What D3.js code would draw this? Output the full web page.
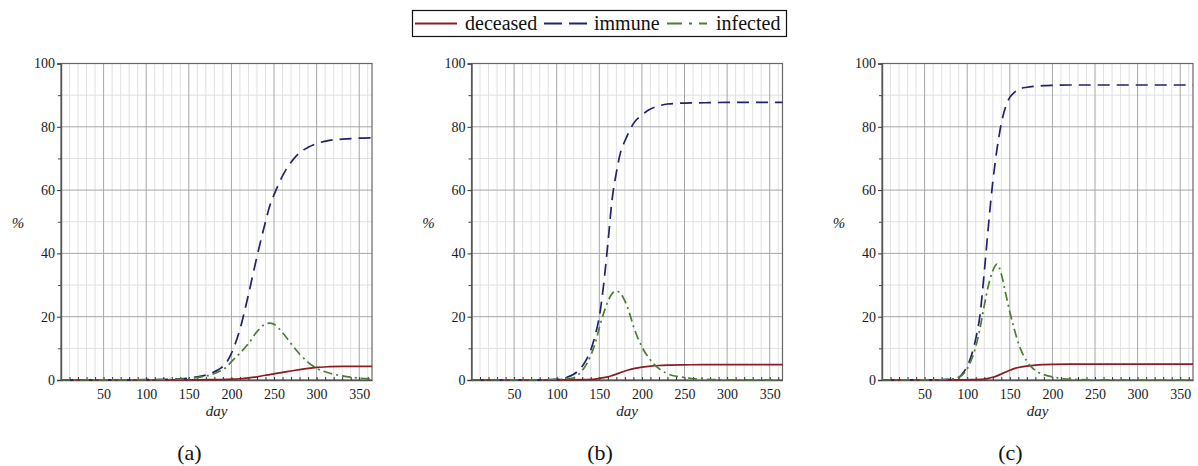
<!DOCTYPE html>
<html>
<head>
<meta charset="utf-8">
<script src="https://cdn.jsdelivr.net/npm/d3@7"></script>
<style>
  html, body { margin: 0; padding: 0; background: #fff; }
  svg { display: block; }
  svg text { font-family: "Liberation Serif", "Times New Roman", serif; }
</style>
</head>
<body>
<svg id="chart" width="1198" height="466"></svg>
<script>
// Epidemic model runs: share of population (%) per day, three scenarios.
const seriesNames = ["deceased", "immune", "infected"];
const panelLabels = ["(a)", "(b)", "(c)"];
const xTickLabels = [50, 100, 150, 200, 250, 300, 350];
const yTickLabels = [0, 20, 40, 60, 80, 100];

// Scenario (a)
const daysA     = [0, 100, 140, 160, 175, 185, 195, 200, 210, 220, 230, 240, 245, 250, 260, 270, 280, 290, 300, 315, 330, 350, 365];
const deceasedA = [0, 0, 0.02, 0.05, 0.1, 0.15, 0.2, 0.25, 0.4, 0.65, 1.0, 1.5, 1.7, 1.95, 2.4, 2.85, 3.3, 3.7, 4.0, 4.2, 4.28, 4.3, 4.3];
const immuneA   = [0, 0.1, 0.4, 1.0, 2.0, 3.3, 5.8, 8.4, 16, 27, 39, 50, 55, 58.5, 64.5, 68.8, 71.8, 73.5, 74.7, 75.7, 76.1, 76.4, 76.5];
const infectedA = [0, 0.05, 0.3, 0.8, 1.6, 2.6, 4.3, 5.8, 8.5, 11.5, 15.3, 17.7, 18, 17.6, 15, 11.5, 8.2, 5.6, 3.7, 2.2, 1.3, 0.6, 0.3];

// Scenario (b)
const daysB     = [0, 80, 100, 110, 120, 128, 135, 140, 145, 150, 155, 160, 165, 170, 175, 180, 185, 190, 200, 210, 220, 230, 250, 275, 300, 365];
const deceasedB = [0, 0, 0.02, 0.04, 0.07, 0.1, 0.15, 0.2, 0.3, 0.5, 0.75, 1.0, 1.4, 1.85, 2.35, 2.85, 3.25, 3.6, 4.05, 4.38, 4.58, 4.7, 4.8, 4.85, 4.85, 4.85];
const immuneB   = [0, 0.05, 0.2, 0.7, 1.8, 3.7, 6.5, 9.5, 14, 20, 30, 43, 57, 65.5, 72, 75.5, 78.5, 81, 83.7, 85.6, 86.6, 87.2, 87.5, 87.6, 87.7, 87.7];
const infectedB = [0, 0.05, 0.2, 0.3, 0.7, 2.4, 5, 7.8, 11.5, 16.5, 21, 24.8, 27.3, 28.1, 27.3, 25, 21.5, 17, 10.5, 6.3, 3.6, 2.0, 0.8, 0.2, 0.05, 0];

// Scenario (c)
const daysC     = [0, 60, 80, 90, 95, 100, 105, 110, 115, 120, 125, 130, 135, 140, 145, 150, 155, 160, 170, 180, 190, 200, 220, 250, 300, 365];
const deceasedC = [0, 0, 0.02, 0.03, 0.05, 0.08, 0.1, 0.12, 0.17, 0.25, 0.5, 0.85, 1.3, 1.9, 2.5, 3.1, 3.6, 3.95, 4.4, 4.7, 4.85, 4.95, 5.0, 5.0, 5.0, 5.0];
const immuneC   = [0, 0.05, 0.2, 0.8, 2.2, 4.3, 7.8, 13, 20.5, 34, 49, 62.5, 73, 81, 86.3, 89.3, 90.8, 91.8, 92.5, 92.8, 93, 93.1, 93.2, 93.2, 93.2, 93.2];
const infectedC = [0, 0.05, 0.3, 0.9, 1.8, 3.5, 6.5, 10.5, 16.3, 23.5, 30, 34.5, 36.6, 33.5, 27.5, 21.5, 16.3, 11.7, 5.9, 3.0, 1.7, 1.0, 0.25, 0.05, 0, 0];

const panels = [
  { label: panelLabels[0], days: daysA, values: [deceasedA, immuneA, infectedA] },
  { label: panelLabels[1], days: daysB, values: [deceasedB, immuneB, infectedB] },
  { label: panelLabels[2], days: daysC, values: [deceasedC, immuneC, infectedC] }
];

const styles = {
  deceased: { color: "#8a1c22", dash: null },
  immune:   { color: "#22226e", dash: "12,7" },
  infected: { color: "#4d7d30", dash: "9,4,2,4" }
};

const svg = d3.select("#chart");
const serif = "'Liberation Serif', 'Times New Roman', serif";

const plotW = 311, plotTop = 63.5, plotBottom = 380;
const panelLeft = [61, 471.5, 882];

panels.forEach((p, i) => {
  const left = panelLeft[i];
  const x = d3.scaleLinear().domain([0, 365]).range([left, left + plotW]);
  const y = d3.scaleLinear().domain([0, 100]).range([plotBottom, plotTop]);
  const g = svg.append("g");

  // minor grid
  const minorX = d3.range(10, 365, 10).filter(d => d % 50 !== 0);
  const minorY = [10, 30, 50, 70, 90];
  g.selectAll(".mgx").data(minorX).join("line")
    .attr("x1", d => x(d)).attr("x2", d => x(d))
    .attr("y1", plotTop).attr("y2", plotBottom)
    .attr("stroke", "#e0e0e0").attr("stroke-width", 1);
  g.selectAll(".mgy").data(minorY).join("line")
    .attr("x1", left).attr("x2", left + plotW)
    .attr("y1", d => y(d)).attr("y2", d => y(d))
    .attr("stroke", "#e0e0e0").attr("stroke-width", 1);

  // major grid
  g.selectAll(".gx").data(xTickLabels).join("line")
    .attr("x1", d => x(d)).attr("x2", d => x(d))
    .attr("y1", plotTop).attr("y2", plotBottom)
    .attr("stroke", "#a6a6a6").attr("stroke-width", 1);
  g.selectAll(".gy").data([20, 40, 60, 80]).join("line")
    .attr("x1", left).attr("x2", left + plotW)
    .attr("y1", d => y(d)).attr("y2", d => y(d))
    .attr("stroke", "#a6a6a6").attr("stroke-width", 1);

  // frame
  g.append("rect")
    .attr("x", left).attr("y", plotTop)
    .attr("width", plotW).attr("height", plotBottom - plotTop)
    .attr("fill", "none").attr("stroke", "#666").attr("stroke-width", 1.2);

  // y axis
  const yAxis = g.append("g").attr("transform", `translate(${left},0)`)
    .call(d3.axisLeft(y).tickValues(yTickLabels).tickSize(4).tickPadding(2).tickFormat(d3.format("d")));
  g.append("g").attr("transform", `translate(${left},0)`)
    .call(d3.axisLeft(y).tickValues(minorY).tickSize(3).tickFormat(""))
    .call(a => a.select(".domain").remove())
    .call(a => a.selectAll("line").attr("stroke", "#444"));

  // x axis
  const allX = d3.range(10, 365, 10);
  const xAxis = g.append("g").attr("transform", `translate(0,${plotBottom})`)
    .call(d3.axisBottom(x).tickValues(allX).tickSizeInner(-3).tickSizeOuter(0).tickPadding(9)
      .tickFormat(d => xTickLabels.includes(d) ? d : ""));

  [yAxis, xAxis].forEach(a => {
    a.attr("font-family", null);
    a.selectAll("text").style("font-family", serif).style("font-size", "14px").attr("fill", "#1a1a1a");
    a.selectAll("line").attr("stroke", "#333");
    a.select(".domain").attr("stroke", "#555").attr("stroke-width", 1.4);
  });

  // curves
  seriesNames.forEach((name, k) => {
    const pts = p.days.map((d, j) => [d, p.values[k][j]]);
    const line = d3.line().x(d => x(d[0])).y(d => y(d[1])).curve(d3.curveMonotoneX);
    g.append("path")
      .attr("d", line(pts))
      .attr("fill", "none")
      .attr("stroke", styles[name].color)
      .attr("stroke-width", 1.7)
      .attr("stroke-dasharray", styles[name].dash);
  });

  // axis titles
  g.append("text").attr("x", left - 43).attr("y", 228)
    .attr("text-anchor", "middle").style("font-family", serif).style("font-style", "italic")
    .style("font-size", "15px").attr("fill", "#222").text("%");
  g.append("text").attr("x", left + plotW / 2).attr("y", 416)
    .attr("text-anchor", "middle").style("font-family", serif).style("font-style", "italic")
    .style("font-size", "15px").attr("fill", "#222").text("day");

  // panel label
  g.append("text").attr("x", left + plotW / 2 - 27).attr("y", 460)
    .attr("text-anchor", "middle").style("font-family", serif).style("font-size", "22px").attr("fill", "#111")
    .text(p.label);
});

// legend
const legend = svg.append("g");
legend.append("rect").attr("x", 412.5).attr("y", 10.5).attr("width", 374).attr("height", 26)
  .attr("fill", "#fff").attr("stroke", "#111").attr("stroke-width", 1.2);
const legendItems = [
  { name: "deceased", x1: 415, x2: 457, tx: 465 },
  { name: "immune",   x1: 544, x2: 587, tx: 594 },
  { name: "infected", x1: 667, x2: 707, tx: 716 }
];
legendItems.forEach(it => {
  legend.append("line").attr("x1", it.x1).attr("x2", it.x2).attr("y1", 23.5).attr("y2", 23.5)
    .attr("stroke", styles[it.name].color).attr("stroke-width", 2)
    .attr("stroke-dasharray", it.name === "immune" ? "18,7" : it.name === "infected" ? "15,7,3,7" : null);
  legend.append("text").attr("x", it.tx).attr("y", 30).style("font-family", serif).style("font-size", "20px")
    .attr("fill", "#111").text(it.name);
});
</script>
</body>
</html>
